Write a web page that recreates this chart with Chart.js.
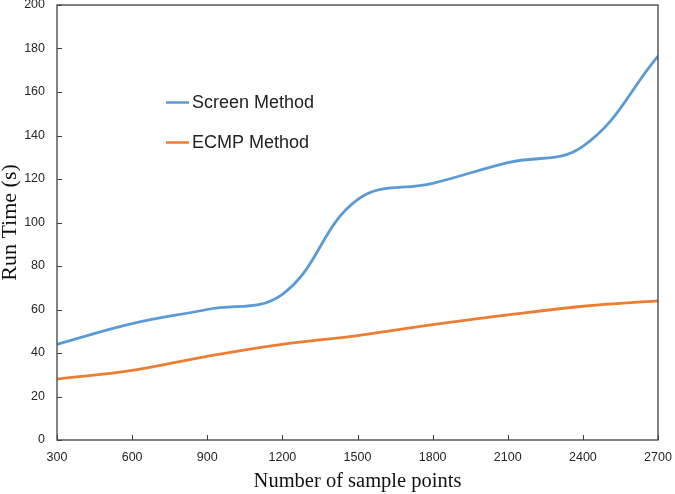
<!DOCTYPE html>
<html>
<head>
<meta charset="utf-8">
<script src="https://cdn.jsdelivr.net/npm/chart.js@4"></script>
<style>
  html, body { margin: 0; padding: 0; background: #fff; }
  #wrap { width: 675px; height: 494px; }
</style>
</head>
<body>
<div id="wrap"><canvas id="runChart" width="675" height="494"></canvas></div>
<script>
// sample sizes on the x axis
const samplePoints = [300, 600, 900, 1200, 1500, 1800, 2100, 2400, 2700];
// run times (s)
const screenTimes = [44, 53.5, 60, 67, 110.5, 118, 127.5, 135, 176.5];
const ecmpTimes = [28, 32, 38.5, 44, 48, 53, 57.5, 61.5, 64];
const seriesNames = ['Screen Method', 'ECMP Method'];
const seriesColors = ['#5B9BD5', '#ED7D31'];

const toPoints = (vals) => samplePoints.map((x, i) => ({ x: x, y: vals[i] }));

// frame round the plot and short inward tick marks
const framePlugin = {
    id: 'frame',
    afterDraw(chart) {
        const { ctx, chartArea: a } = chart;
        const xs = chart.scales.x, ys = chart.scales.y;
        ctx.save();
        ctx.strokeStyle = '#404040';
        ctx.lineWidth = 1.3;
        ctx.strokeRect(a.left, a.top, a.right - a.left, a.bottom - a.top);
        ctx.lineWidth = 1;
        ctx.beginPath();
        xs.ticks.forEach(t => {
            const px = Math.round(xs.getPixelForValue(t.value)) + 0.5;
            ctx.moveTo(px, a.bottom);
            ctx.lineTo(px, a.bottom - 5);
        });
        ys.ticks.forEach(t => {
            const py = Math.round(ys.getPixelForValue(t.value)) + 0.5;
            ctx.moveTo(a.left, py);
            ctx.lineTo(a.left + 5, py);
        });
        ctx.stroke();
        ctx.restore();
    }
};

// legend drawn inside the plot, like the original
const legendPlugin = {
    id: 'innerLegend',
    afterDraw(chart) {
        const { ctx } = chart;
        ctx.save();
        ctx.font = '18px "Liberation Sans", Arial, sans-serif';
        ctx.textBaseline = 'middle';
        chart.data.datasets.forEach((ds, i) => {
            const y = 102.5 + i * 40;
            ctx.strokeStyle = ds.borderColor;
            ctx.lineWidth = 2.5;
            ctx.beginPath();
            ctx.moveTo(166, y);
            ctx.lineTo(189, y);
            ctx.stroke();
            ctx.fillStyle = '#222';
            ctx.fillText(ds.label, 192, y + 1);
        });
        ctx.restore();
    }
};

const tickFont = { family: '"Liberation Sans", Arial, sans-serif', size: 12.5 };
const serif = '"Liberation Serif", "Times New Roman", serif';

new Chart(document.getElementById('runChart'), {
    type: 'line',
    data: {
        datasets: [
            {
                label: seriesNames[0],
                data: toPoints(screenTimes),
                borderColor: seriesColors[0],
                borderWidth: 2.8,
                pointRadius: 0,
                tension: 0.4,
                fill: false
            },
            {
                label: seriesNames[1],
                data: toPoints(ecmpTimes),
                borderColor: seriesColors[1],
                borderWidth: 2.8,
                pointRadius: 0,
                tension: 0.4,
                fill: false
            }
        ]
    },
    options: {
        responsive: false,
        animation: false,
        layout: { padding: { top: 5, right: 17, left: 0, bottom: 0 } },
        plugins: {
            legend: { display: false },
            tooltip: { enabled: false }
        },
        scales: {
            x: {
                type: 'linear',
                min: 300,
                max: 2700,
                ticks: { stepSize: 300, color: '#262626', font: tickFont, padding: 10, maxRotation: 0, callback: v => String(v) },
                grid: { display: false, drawTicks: false },
                border: { display: false },
                title: { display: true, text: 'Number of sample points', color: '#111', font: { family: serif, size: 20.5 }, padding: { top: 2, bottom: 0 } },
                afterFit(scale) {
                    scale.height = 54;
                    scale.paddingLeft = 0;
                    scale.paddingRight = 0;
                }
            },
            y: {
                min: 0,
                max: 200,
                ticks: { stepSize: 20, color: '#262626', font: tickFont, padding: 12, callback: v => String(v) },
                grid: { display: false, drawTicks: false },
                border: { display: false },
                title: { display: true, text: 'Run Time (s)', color: '#111', font: { family: serif, size: 22, lineHeight: 0.9 }, padding: { top: 0, bottom: 0 } },
                afterFit(scale) {
                    scale.width = 57;
                    scale.paddingTop = 0;
                    scale.paddingBottom = 0;
                }
            }
        }
    },
    plugins: [framePlugin, legendPlugin]
});
</script>
</body>
</html>
